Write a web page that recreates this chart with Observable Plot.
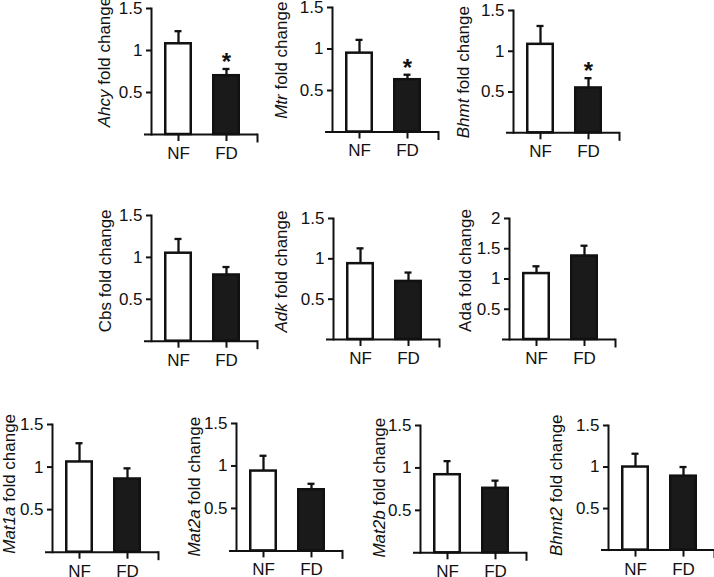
<!DOCTYPE html>
<html>
<head>
<meta charset="utf-8">
<script src="https://cdn.jsdelivr.net/npm/d3@7"></script>
<script src="https://cdn.jsdelivr.net/npm/@observablehq/plot@0.6"></script>
<style>
  html, body { margin: 0; padding: 0; background: #fff; }
  #root { position: relative; width: 714px; height: 577px; overflow: hidden; background: #fff; }
  #root svg { position: absolute; overflow: visible; }
</style>
</head>
<body>
<div id="root"></div>
<script>
// ---- data ----
const genes = ["Ahcy", "Mtr", "Bhmt", "Cbs", "Adk", "Ada", "Mat1a", "Mat2a", "Mat2b", "Bhmt2"];
const italicName = [true, true, true, false, true, false, true, true, true, true];
const groups = ["NF", "FD"];
const nfMean = [1.08, 0.95, 1.085, 1.05, 0.94, 1.09, 1.06, 0.94, 0.92, 1.00];
const nfErr  = [0.15, 0.16, 0.225, 0.17, 0.19, 0.12, 0.22, 0.18, 0.16, 0.16];
const fdMean = [0.70, 0.63, 0.55, 0.79, 0.72, 1.38, 0.86, 0.72, 0.76, 0.89];
const fdErr  = [0.08, 0.06, 0.12, 0.095, 0.11, 0.17, 0.125, 0.07, 0.09, 0.11];
const significant = [true, true, true, false, false, false, false, false, false, false];
const yMax = [1.5, 1.5, 1.5, 1.5, 1.5, 2, 1.5, 1.5, 1.5, 1.5];
const yTicks15 = [0.5, 1, 1.5];
const yTicks20 = [0.5, 1, 1.5, 2];
const axisSuffix = " fold change";

// ---- layout (pixel placement of each panel) ----
const layout = [
  {ax: 151,   top: 8,     base: 134,   lab: 41, ldy: -9},
  {ax: 332,   top: 7,     base: 131.5, lab: 45, ldy: -9},
  {ax: 513,   top: 10,    base: 132.3, lab: 44, ldy: 1},
  {ax: 151,   top: 215,   base: 340.7, lab: 40, ldy: -7},
  {ax: 333,   top: 218.3, base: 339.3, lab: 46, ldy: -7},
  {ax: 509.3, top: 218.3, base: 339.3, lab: 38, ldy: -8},
  {ax: 52.3,  top: 424.3, base: 552,   lab: 37, ldy: -4},
  {ax: 235.7, top: 423.3, base: 550.7, lab: 36, ldy: 0},
  {ax: 420,   top: 424.7, base: 552,   lab: 35, ldy: -1},
  {ax: 607.7, top: 424.7, base: 549.3, lab: 46, ldy: -2}
];
const mL = 62, mR = 4, mT = 10, mB = 30, frameW = 106;
const ink = "#111";
const font = "'Liberation Sans', Arial, Helvetica, sans-serif";

const root = document.getElementById("root");

genes.forEach((gene, i) => {
  const L = layout[i];
  const frameH = L.base - L.top;
  const width = mL + frameW + mR;
  const height = mT + frameH + mB;
  const data = groups.map((g, j) => ({
    group: g,
    mean: j === 0 ? nfMean[i] : fdMean[i],
    err: j === 0 ? nfErr[i] : fdErr[i]
  }));
  const starData = significant[i] ? data.filter(d => d.group === "FD") : [];

  const chart = Plot.plot({
    width, height,
    marginLeft: mL, marginRight: mR, marginTop: mT, marginBottom: mB,
    style: {fontFamily: font, fontSize: "17px", color: ink, background: "transparent", overflow: "visible"},
    x: {domain: groups, paddingInner: 0.417, paddingOuter: 0.3125, align: 0.433},
    y: {domain: [0, yMax[i]]},
    color: {domain: groups, range: ["#ffffff", "#1a1a1a"]},
    marks: [
      Plot.barY(data, {x: "group", y: "mean", fill: "group", stroke: ink, strokeWidth: 2.5, insetLeft: 1.25, insetRight: 1.25}),
      Plot.ruleX(data, {x: "group", y1: "mean", y2: d => d.mean + d.err, stroke: ink, strokeWidth: 2.3}),
      Plot.tickY(data, {x: "group", y: d => d.mean + d.err, stroke: ink, strokeWidth: 2.3, insetLeft: 10.5, insetRight: 10.5}),
      Plot.text(starData, {x: "group", y: d => d.mean + d.err, text: () => "*", fontSize: 24, fontWeight: "bold", lineAnchor: "bottom", dy: 1, fill: ink}),
      Plot.frame({anchor: "left", stroke: ink, strokeWidth: 2}),
      Plot.ruleY([0], {stroke: ink, strokeWidth: 2, insetLeft: -7}),
      Plot.frame({anchor: "right", stroke: ink, strokeWidth: 2, insetTop: frameH, insetBottom: -7}),
      Plot.axisY({ticks: yMax[i] === 2 ? yTicks20 : yTicks15, tickSize: 5, tickPadding: 4, tickFormat: d => String(d),
                  label: null, fontSize: 17, stroke: ink, strokeWidth: 2, fill: ink}),
      Plot.axisX({tickSize: 7, tickPadding: 5.4, label: null, fontSize: 17, stroke: ink, strokeWidth: 2, fill: ink})
    ]
  });

  chart.style.left = (L.ax - mL) + "px";
  chart.style.top = (L.top - mT) + "px";

  const t = d3.select(chart).append("text")
    .attr("transform", `translate(${mL - L.lab},${mT + frameH / 2 + L.ldy}) rotate(-90)`)
    .attr("text-anchor", "middle")
    .attr("fill", ink)
    .attr("font-family", font)
    .attr("font-size", 17);
  t.append("tspan").attr("font-style", italicName[i] ? "italic" : "normal").text(gene);
  t.append("tspan").text(axisSuffix);

  root.appendChild(chart);
});
</script>
</body>
</html>
